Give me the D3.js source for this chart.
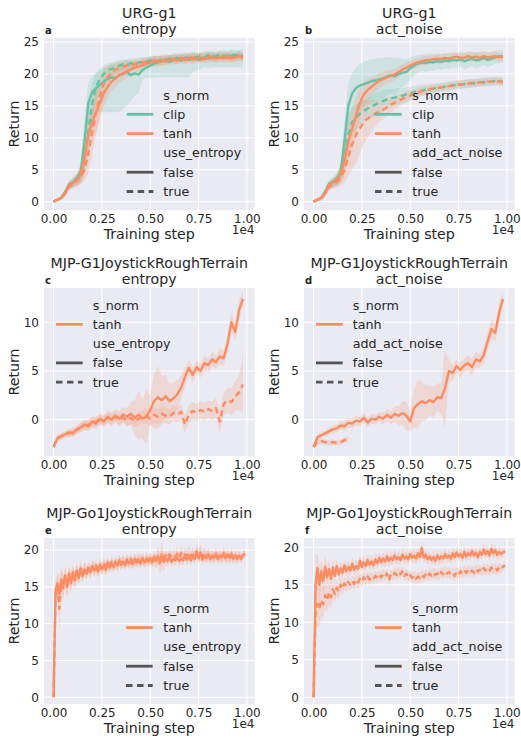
<!doctype html>
<html lang="en">
<head>
<meta charset="utf-8">
<script src="https://d3js.org/d3.v7.min.js"></script>
<style>
  body { margin: 0; background: #fff; }
  svg text { font-family: "DejaVu Sans", sans-serif; fill: #262626; }
</style>
</head>
<body>
<svg id="chart" width="521" height="738"></svg>
<script>
// ---- data ----
var xTicks = [0, 2500, 5000, 7500, 10000];
var xTickLabels = ["0.00", "0.25", "0.50", "0.75", "1.00"];
var steps200 = d3.range(0, 9801, 200);
var steps100 = d3.range(0, 9901, 100);
var shortSteps = d3.range(0, 1801, 200);

// URG-g1 entropy
var aClipFalse = [0,0.3,0.6,1.5,2.7,3.0,3.6,4.6,9.5,15.5,17.2,17.8,18.3,18.8,19.2,19.5,19.3,19.8,20.0,20.3,19.8,20.1,19.9,20.6,21.0,21.3,21.6,21.8,22.0,22.1,21.9,22.2,22.3,22.1,22.4,22.2,22.5,22.3,22.2,22.6,22.4,22.7,22.5,22.6,22.8,22.6,22.9,22.7,22.8,22.9];
var aClipFalseW = [0.1,0.2,0.3,0.5,0.6,0.7,0.8,1.5,3.5,3,2.5,2.3,2.2,2.1,2,2,2.1,2,2,1.9,2.2,2,2,1.6,1.4,1.2,1.1,1,1,1,1.1,1,1,1.1,1,1.1,1,1,1.1,1,1.1,1,1,1.1,1,1,0.9,1,1,1];
var aClipFalseWLo = [0.1,0.2,0.3,0.5,0.6,0.7,0.8,1.5,4.5,6.5,5.2,3.8,4.3,4.8,5.2,5.5,5.3,5.8,5.5,5.3,4,3.5,3,1.5,1.5,2,2.2,2.3,2.5,2.6,2.4,2.7,2.8,2.6,2.9,2.7,2.2,1.8,1.5,1.6,1.5,1.7,1.5,1.6,1.8,1.6,1.9,1.7,1.8,1.9];
var aClipTrue = [0,0.3,0.6,1.5,2.5,3.0,3.4,4.2,6.5,11,15.5,18,19.2,20,20.6,20.8,21.0,21.3,21.5,21.4,21.7,21.5,21.8,21.9,22.0,22.1,22.2,22.0,22.3,22.2,22.4,22.3,22.5,22.4,22.6,22.5,22.7,22.6,22.8,22.6,22.9,22.7,22.8,23.0,22.8,22.9,23.1,22.9,23.0,22.8];
var aClipTrueW = [0.1,0.2,0.3,0.5,0.6,0.7,0.9,1.3,2.5,3.5,3,2.2,1.6,1.3,1.1,1,1,0.9,0.9,0.8,0.8,0.8,0.8,0.7,0.7,0.7,0.7,0.7,0.6,0.6,0.6,0.6,0.6,0.6,0.6,0.6,0.6,0.6,0.6,0.6,0.6,0.6,0.6,0.6,0.6,0.6,0.6,0.6,0.6,0.6];
var aTanhFalse = [0,0.3,0.6,1.4,2.6,2.9,3.4,4.2,7,10.5,12.5,14,15.5,17,18,18.8,19.3,19.8,20.1,20.4,20.7,21,21.2,21.4,21.6,21.8,22.0,21.9,22.1,22.0,22.2,22.3,22.1,22.4,22.2,22.5,22.3,22.4,22.6,22.3,22.5,22.7,22.4,22.6,22.5,22.7,22.4,22.6,22.8,22.6];
var aTanhFalseW = [0.1,0.2,0.3,0.5,0.6,0.7,0.9,1.3,2.5,3,3.2,3,2.6,2.2,1.8,1.5,1.3,1.2,1.1,1,1,0.9,0.9,0.9,0.8,0.8,0.8,0.8,0.7,0.7,0.7,0.7,0.7,0.7,0.7,0.7,0.7,0.7,0.7,0.7,0.7,0.7,0.7,0.7,0.7,0.7,0.7,0.7,0.7,0.7];
var aTanhTrue = [0,0.3,0.6,1.3,2.4,2.8,3.2,3.9,5,7.5,11,14,16.5,18.5,19.5,20.2,20.7,20.9,21.1,21.4,21.3,21.6,21.5,21.8,21.9,22.0,22.1,22.2,22.0,22.3,22.2,22.4,22.3,22.5,22.4,22.6,22.5,22.7,22.4,22.6,22.8,22.5,22.7,22.6,22.8,22.5,22.7,22.6,22.8,22.7];
var aTanhTrueW = [0.1,0.2,0.3,0.5,0.6,0.7,0.9,1.2,1.8,3,3.5,3.5,3,2.5,1.8,1.4,1.2,1,0.9,0.9,0.8,0.8,0.8,0.8,0.7,0.7,0.7,0.7,0.7,0.7,0.7,0.7,0.7,0.7,0.7,0.7,0.7,0.7,0.7,0.7,0.7,0.7,0.7,0.7,0.7,0.7,0.7,0.7,0.7,0.7];

// URG-g1 act_noise
var bClipFalse = [0,0.3,0.6,1.6,2.8,3.1,3.6,4.6,9.5,15,17,17.8,18.2,18.4,18.6,18.9,19,19.2,19.3,19.6,19.8,19.6,20,20.2,20.3,20.9,21.3,21.6,21.8,21.7,21.9,21.8,22.0,21.9,22.1,22.0,22.2,22.1,22.3,22.0,22.2,22.4,22.1,22.3,22.5,22.2,22.4,22.6,22.8,22.7];
var bClipFalseW = [0.1,0.2,0.3,0.5,0.6,0.7,0.9,1.5,3.5,3.5,3.2,3.3,3.4,3.5,3.5,3.4,3.4,3.3,3.2,3,2.8,2.9,2.5,2.2,2,1.7,1.5,1.4,1.3,1.4,1.3,1.3,1.2,1.3,1.2,1.3,1.2,1.2,1.1,1.3,1.2,1.1,1.3,1.2,1.1,1.2,1.1,1,1,1];
var bClipTrue = [0,0.3,0.5,1.4,2.5,2.9,3.4,4.2,7,10.5,12.5,13.2,13.8,14.2,14.6,14.9,15.2,15.5,15.8,16,16.2,16.3,16.5,16.6,16.8,17,17.1,17.3,17.4,17.5,17.6,17.7,17.8,17.9,18,18.1,18.2,18.3,18.3,18.4,18.5,18.5,18.6,18.7,18.7,18.8,18.8,18.9,18.9,18.8];
var bClipTrueW = [0.1,0.2,0.3,0.5,0.6,0.7,0.9,1.4,2.5,3,2.5,2,1.8,1.6,1.6,1.7,1.8,1.8,1.7,1.6,1.5,1.4,1.3,1.2,1.1,1,1,0.9,0.9,0.8,0.8,0.8,0.8,0.7,0.7,0.7,0.7,0.7,0.7,0.7,0.7,0.7,0.7,0.7,0.7,0.7,0.7,0.7,0.7,0.7];
var bTanhFalse = [0,0.3,0.6,1.4,2.6,3,3.4,4.3,6.5,9.5,11.5,13.5,15.5,16.8,17.5,18,18.5,18.9,19.2,19.5,19.7,19.9,20.3,20.7,21,21.3,21.6,21.8,22,22.1,22.2,22.3,22.4,22.3,22.5,22.4,22.6,22.7,22.5,22.6,22.8,22.6,22.7,22.5,22.8,22.6,22.7,22.8,22.6,22.7];
var bTanhFalseW = [0.1,0.2,0.3,0.5,0.6,0.7,0.9,1.3,2.5,3,3.2,2.8,2.4,2,1.7,1.5,1.3,1.2,1.1,1,1,0.9,0.9,0.8,0.8,0.8,0.8,0.7,0.7,0.7,0.7,0.7,0.7,0.7,0.7,0.7,0.7,0.7,0.7,0.7,0.7,0.7,0.7,0.7,0.7,0.7,0.7,0.7,0.7,0.7];
var bTanhTrue = [0,0.3,0.5,1.3,2.3,2.7,3.1,3.8,5,7,9,10.5,11.5,12.5,13,13.4,13.8,14.1,14.4,14.8,15.2,15.5,15.8,16.1,16.4,16.6,16.9,17.1,17.3,17.4,17.6,17.7,17.8,17.9,18,18.1,18.2,18.3,18.4,18.4,18.5,18.6,18.6,18.7,18.7,18.8,18.8,18.9,18.8,18.7];
var bTanhTrueW = [0.1,0.2,0.3,0.5,0.6,0.7,0.9,1.3,2,3,4,4.5,4,3.5,3,2.5,2,1.7,1.5,1.3,1.2,1.1,1,0.9,0.9,0.8,0.8,0.7,0.7,0.7,0.6,0.6,0.6,0.6,0.6,0.6,0.6,0.6,0.6,0.6,0.6,0.6,0.6,0.6,0.6,0.6,0.6,0.6,0.6,0.6];

// MJP-G1JoystickRoughTerrain entropy
var cTanhFalse = [-2.8,-1.9,-1.7,-1.5,-1.3,-1.4,-1.0,-0.8,-0.5,-0.7,-0.2,-0.4,0.1,-0.2,0.3,0,0.4,0.1,0.5,0.3,0.6,0.2,0.5,0.1,0.3,1.0,1.9,2.3,2.0,2.4,1.9,2.2,2.6,3.3,4.4,5.3,4.6,5.4,5.0,5.8,5.6,6.2,5.9,6.5,6.3,7.8,10,9.0,11.3,12.4];
var cTanhFalseW = [0.2,0.3,0.3,0.3,0.4,0.4,0.4,0.5,0.5,0.5,0.6,0.6,0.6,0.6,0.7,0.7,0.7,0.8,0.8,0.9,1.2,1.8,2.5,2,2.8,1.5,2.8,3.2,2.5,2.2,1.8,1.6,1.5,1.2,1,0.8,0.8,0.7,0.7,0.8,0.7,0.8,0.7,0.8,0.8,0.9,1,0.9,1,0.8];
var cTanhTrue = [-2.8,-1.9,-1.7,-1.5,-1.4,-1.3,-1.1,-0.8,-0.6,-0.5,-0.3,-0.2,0,-0.1,0.2,0.1,0.3,0,0.2,-0.1,0.2,-0.2,0.1,0.3,0.4,0.1,0.5,0.3,0.6,0.4,0.3,0.7,0.5,0.8,-0.5,0.6,0.9,0.7,1.0,0.8,1.1,0.9,1.2,-0.2,1.6,2.0,1.8,2.4,2.8,3.6];
var cTanhTrueW = [0.2,0.3,0.3,0.3,0.4,0.4,0.4,0.5,0.5,0.5,0.5,0.5,0.5,0.5,0.5,0.5,0.5,0.5,0.5,0.6,0.6,0.6,0.6,0.7,0.8,0.8,0.8,0.8,0.8,0.8,0.8,0.8,0.8,0.8,0.9,0.9,0.9,0.9,0.9,0.9,0.9,1,1,1.2,1.2,1.3,1.4,1.5,1.8,3];

// MJP-G1JoystickRoughTerrain act_noise
var dTanhFalse = [-2.8,-1.8,-1.6,-1.4,-1.2,-1.0,-0.9,-0.6,-0.7,-0.3,-0.4,-0.1,-0.2,0.2,-0.3,0.1,0,0.3,0.1,0.5,0.2,0.6,0.4,0.7,0.4,-0.2,1.2,1.6,1.9,1.7,2.0,1.8,2.3,2.2,3.2,5.0,4.8,5.5,5.1,5.6,5.8,5.4,6.2,6.0,6.6,8.0,9.3,8.9,11.0,12.4];
var dTanhFalseW = [0.2,0.3,0.3,0.3,0.4,0.4,0.4,0.4,0.5,0.5,0.5,0.5,0.5,0.5,0.5,0.5,0.5,0.5,0.6,0.6,0.7,0.8,1,1.2,1.5,1,2,2.5,2,1.8,1.5,1.6,1.4,1.6,4,1.2,0.8,0.7,0.8,0.7,0.8,0.9,0.8,0.7,0.8,0.9,1,0.9,1,0.8];
var dTanhTrue = [-2.8,-2.3,-2.2,-2.3,-2.4,-2.3,-2.4,-2.3,-2.1,-2.0];
var dTanhTrueW = [0.2,0.3,0.3,0.3,0.3,0.3,0.3,0.3,0.3,0.3];

// MJP-Go1JoystickRoughTerrain entropy
var eTanhFalse = [0,14.5,15.5,14,16,15.2,16.5,15,16.8,15.5,17,16,17.2,16.2,17.5,16.5,17.3,16.8,17.6,17,17.8,17.2,17.6,17.1,18,17.4,17.9,17.3,18.3,17.6,18.1,17.7,18.4,17.9,18.6,18,18.4,18,18.7,18.2,18.5,18.1,18.8,18.3,18.6,18.2,18.9,18.3,18.7,18.4,18.9,18.3,18.8,18.5,19.2,18.2,19.4,18.4,18.9,18.5,19,18.4,18.8,18.6,19.1,18.5,18.9,18.6,19.2,18.7,19.1,18.6,19.3,18.8,19.5,18.9,19.6,18.7,19.3,18.9,19.4,18.8,19.2,18.9,19.5,18.8,19.3,19,19.6,18.9,19.4,19,19.5,18.8,19.3,18.9,19.2,18.8,19.3,19.4];
var eTanhFalseW = [0.2,1.5,1.5,2.5,1.5,1.5,1.2,1.5,1.2,1.3,1.1,1.2,1,1.1,0.9,1,0.9,0.9,0.8,0.9,0.8,0.9,0.8,0.8,0.9,0.8,0.8,0.9,0.8,0.7,0.8,0.7,0.8,0.8,0.7,0.8,0.7,0.8,0.7,0.8,0.8,0.7,0.8,0.7,0.8,0.7,0.8,0.7,0.8,0.7,0.8,0.9,0.8,1,1.2,1.5,1.8,1.2,0.9,0.8,0.8,0.7,0.8,0.7,0.8,0.7,0.8,0.7,0.8,0.7,0.8,0.7,0.8,0.7,0.9,0.8,1,0.8,0.9,0.8,0.8,0.7,0.8,0.7,0.8,0.7,0.8,0.7,0.8,0.7,0.8,0.7,0.8,0.7,0.8,0.7,0.7,0.6,0.6,0.5];
var eTanhTrue = [0,13.5,15,12,15.5,14.8,16,15.2,16.4,15.8,16.6,15.9,17,16.4,17.2,16.6,17.5,16.9,17.4,17.1,17.7,17.3,17.9,17.2,17.8,17.5,18.2,17.6,18,17.8,18.4,17.9,18.2,18,18.5,18.1,18.7,18.2,18.5,18.3,18.8,18.2,18.6,18.4,18.9,18.5,18.7,18.4,19,18.6,18.8,18.5,19.1,18.6,18.9,18.7,19.2,18.8,19.3,18.9,19.4,19,19.3,19.1,19.5,19,19.6,19.1,19.4,19.2,19.7,19.1,19.5,19.2,19.8,19.3,19.6,19.2,19.5,19.1,19.4,19,19.3,18.9,19.4,19,19.2,18.8,19.3,19,19.1,18.8,19.2,18.9,19.1,18.8,19.2,18.9,19.3,19.5];
var eTanhTrueW = [0.2,1.8,1.5,2.8,1.6,1.5,1.3,1.4,1.2,1.2,1.1,1.1,1,1,0.9,1,0.9,0.9,0.8,0.8,0.8,0.9,0.8,0.8,0.8,0.8,0.8,0.8,0.8,0.7,0.8,0.7,0.8,0.7,0.8,0.7,0.8,0.7,0.8,0.7,0.8,0.7,0.8,0.7,0.8,0.7,0.8,0.7,0.8,0.7,0.8,0.7,0.8,0.7,0.8,0.7,0.8,0.7,0.8,0.7,0.9,0.8,0.9,0.8,0.9,0.8,1,0.8,0.9,0.8,1,0.8,0.9,0.8,1,0.9,1,0.8,0.9,0.8,0.9,0.8,0.8,0.7,0.8,0.7,0.8,0.7,0.8,0.7,0.8,0.7,0.8,0.7,0.7,0.7,0.7,0.6,0.6,0.5];

// MJP-Go1JoystickRoughTerrain act_noise
var fTanhFalse = [0,15,17.2,15,16.8,15.5,17.4,16,17.1,15.8,17.3,16.2,17.5,16.4,17.2,16.6,17.6,16.8,17.4,16.9,17.8,17,17.5,17.1,18.2,17.4,18,17.5,18.3,17.7,18.1,17.6,18.4,17.9,18.6,18,18.5,18.1,18.8,18.2,18.6,18.3,18.9,18.4,18.7,18.3,19,18.5,18.8,18.4,19.1,18.6,18.9,18.5,19.2,18.7,19.9,18.6,19,18.4,18.8,18.3,18.7,18.2,18.9,18.4,18.8,18.5,19.1,18.6,18.9,18.5,19.2,18.7,19.3,18.8,19.1,18.6,19.4,18.8,19.2,18.9,19.5,18.9,19.3,18.7,19.4,19,19.7,19.1,19.5,18.9,19.8,19.2,19.6,19,19.4,19.1,19.3,19.5];
var fTanhFalseW = [0.2,4,2,2.5,1.5,1.8,1.5,1.4,1.3,1.2,1.2,1.1,1,1,1,0.9,0.9,0.9,0.9,0.8,0.9,0.8,0.9,0.8,0.9,0.8,0.9,0.8,0.9,0.8,0.8,0.8,0.8,0.8,0.8,0.8,0.8,0.8,0.8,0.8,0.8,0.8,0.8,0.8,0.8,0.8,0.8,0.8,0.8,0.8,0.8,0.8,0.8,0.8,0.9,0.8,1,0.8,0.8,0.8,0.8,0.7,0.8,0.7,0.8,0.7,0.8,0.7,0.8,0.7,0.8,0.7,0.8,0.7,0.8,0.7,0.8,0.7,0.8,0.7,0.8,0.7,0.8,0.7,0.8,0.7,0.8,0.7,0.8,0.7,0.8,0.7,0.8,0.7,0.8,0.7,0.7,0.6,0.6,0.5];
var fTanhTrue = [0,11,12.5,11.8,13,12.4,13.6,12.9,14,13.3,14.4,13.8,14.6,14.1,15,14.5,15.2,14.8,15.4,15,15.5,15.1,15.7,15.3,15.8,15.5,16,15.6,16.1,15.7,16,15.8,16.2,15.9,16.3,16,16.4,16.1,16.5,15.6,16.4,16.2,16.6,16.3,16.7,16.4,16.8,16.2,16.5,16,16.3,15.9,16.2,15.8,16.1,15.9,16.3,16,16.4,16.1,16.5,16.2,16.6,16.3,16.5,16.2,16.7,16.4,16.8,16.5,16.7,16.4,16.6,16.2,16.7,16.4,16.8,16.5,16.9,16.6,17,16.7,16.9,16.6,17.1,16.8,17,16.7,17.2,16.9,17.1,16.8,17.3,17,17.2,16.9,17.3,17.1,17.4,17.6];
var fTanhTrueW = [0.2,3.5,3,2.5,2,2,1.8,1.6,1.5,1.4,1.3,1.2,1.1,1,1,1,0.9,0.9,0.9,0.8,0.8,0.8,0.8,0.8,0.8,0.8,0.8,0.8,0.8,0.8,0.7,0.7,0.7,0.7,0.7,0.7,0.7,0.7,0.7,0.7,0.7,0.7,0.7,0.7,0.7,0.7,0.7,0.7,0.7,0.7,0.7,0.7,0.7,0.7,0.7,0.7,0.7,0.7,0.7,0.7,0.7,0.7,0.7,0.7,0.7,0.7,0.7,0.7,0.7,0.7,0.7,0.7,0.7,0.7,0.7,0.7,0.7,0.7,0.7,0.7,0.7,0.7,0.7,0.7,0.7,0.7,0.7,0.7,0.7,0.7,0.7,0.7,0.7,0.7,0.7,0.7,0.6,0.6,0.5,0.5];

var hueColor = { clip: "#66c2a5", tanh: "#fc8d62" };

var panels = [
  { t1: "URG-g1", t2: "entropy", tag: "a", col: 0, row: 0, yDom: [-1.3, 25.63], yTicks: [0,5,10,15,20,25],
    hues: ["clip","tanh"], group: "use_entropy", leg: [82.7, 119.3, 57],
    series: [
      { hue: "clip", dash: false, x: steps200, y: aClipFalse, w: aClipFalseW, wLo: aClipFalseWLo },
      { hue: "clip", dash: true,  x: steps200, y: aClipTrue,  w: aClipTrueW },
      { hue: "tanh", dash: false, x: steps200, y: aTanhFalse, w: aTanhFalseW },
      { hue: "tanh", dash: true,  x: steps200, y: aTanhTrue,  w: aTanhTrueW } ] },
  { t1: "URG-g1", t2: "act_noise", tag: "b", col: 1, row: 0, yDom: [-1.3, 25.63], yTicks: [0,5,10,15,20,25],
    hues: ["clip","tanh"], group: "add_act_noise", leg: [71, 108.3, 57],
    series: [
      { hue: "clip", dash: false, x: steps200, y: bClipFalse, w: bClipFalseW },
      { hue: "clip", dash: true,  x: steps200, y: bClipTrue,  w: bClipTrueW },
      { hue: "tanh", dash: false, x: steps200, y: bTanhFalse, w: bTanhFalseW },
      { hue: "tanh", dash: true,  x: steps200, y: bTanhTrue,  w: bTanhTrueW } ] },
  { t1: "MJP-G1JoystickRoughTerrain", t2: "entropy", tag: "c", col: 0, row: 1, yDom: [-3.73, 13.52], yTicks: [0,5,10],
    hues: ["tanh"], group: "use_entropy", leg: [12, 48.7, 17],
    series: [
      { hue: "tanh", dash: false, x: steps200, y: cTanhFalse, w: cTanhFalseW },
      { hue: "tanh", dash: true,  x: steps200, y: cTanhTrue,  w: cTanhTrueW } ] },
  { t1: "MJP-G1JoystickRoughTerrain", t2: "act_noise", tag: "d", col: 1, row: 1, yDom: [-3.73, 13.52], yTicks: [0,5,10],
    hues: ["tanh"], group: "add_act_noise", leg: [12, 48.7, 17],
    series: [
      { hue: "tanh", dash: false, x: steps200, y: dTanhFalse, w: dTanhFalseW },
      { hue: "tanh", dash: true,  x: shortSteps, y: dTanhTrue, w: dTanhTrueW } ] },
  { t1: "MJP-Go1JoystickRoughTerrain", t2: "entropy", tag: "e", col: 0, row: 2, yDom: [-0.91, 21.63], yTicks: [0,5,10,15,20],
    hues: ["tanh"], group: "use_entropy", leg: [82, 119.3, 70.3],
    series: [
      { hue: "tanh", dash: false, x: steps100, y: eTanhFalse, w: eTanhFalseW },
      { hue: "tanh", dash: true,  x: steps100, y: eTanhTrue,  w: eTanhTrueW } ] },
  { t1: "MJP-Go1JoystickRoughTerrain", t2: "act_noise", tag: "f", col: 1, row: 2, yDom: [-0.89, 21.24], yTicks: [0,5,10,15,20],
    hues: ["tanh"], group: "add_act_noise", leg: [71, 108.3, 70.3],
    series: [
      { hue: "tanh", dash: false, x: steps100, y: fTanhFalse, w: fTanhFalseW },
      { hue: "tanh", dash: true,  x: steps100, y: fTanhTrue,  w: fTanhTrueW } ] }
];

// ---- layout ----
var colLeft = [44, 304];
var rowTop = [38, 288, 538];
var rowH = [172, 168, 166];
var axW = 210.5;

var svg = d3.select("#chart");

panels.forEach(function(p) {
  var left = colLeft[p.col], top = rowTop[p.row], h = rowH[p.row];
  var g = svg.append("g").attr("transform", "translate(" + left + "," + top + ")");
  var x = d3.scaleLinear().domain([-495, 10395]).range([0, axW]);
  var y = d3.scaleLinear().domain(p.yDom).range([h, 0]);

  g.append("rect").attr("width", axW).attr("height", h).attr("fill", "#eaeaf2");

  // grid
  g.selectAll(".gx").data(xTicks).enter().append("line")
    .attr("x1", function(d) { return x(d); }).attr("x2", function(d) { return x(d); })
    .attr("y1", 0).attr("y2", h).attr("stroke", "#fff").attr("stroke-width", 1);
  g.selectAll(".gy").data(p.yTicks).enter().append("line")
    .attr("y1", function(d) { return y(d); }).attr("y2", function(d) { return y(d); })
    .attr("x1", 0).attr("x2", axW).attr("stroke", "#fff").attr("stroke-width", 1);

  // axes (no domain, no ticks - seaborn darkgrid)
  var xa = g.append("g").attr("transform", "translate(0," + h + ")")
    .call(d3.axisBottom(x).tickValues(xTicks).tickFormat(function(d, i) { return xTickLabels[i]; }).tickSize(0).tickPadding(13));
  var ya = g.append("g")
    .call(d3.axisLeft(y).tickValues(p.yTicks).tickSize(0).tickPadding(5));
  [xa, ya].forEach(function(a) {
    a.select(".domain").remove();
    a.selectAll("text").attr("font-size", 12).attr("font-family", "DejaVu Sans").attr("fill", "#262626");
  });
  xa.selectAll("text").attr("dy", 0);

  // bands then lines
  var clipId = "clip" + p.tag;
  g.append("clipPath").attr("id", clipId).append("rect").attr("width", axW).attr("height", h);
  var plot = g.append("g").attr("clip-path", "url(#" + clipId + ")");
  p.series.forEach(function(s) {
    var lo = s.wLo || s.w;
    var area = d3.area()
      .x(function(d, i) { return x(s.x[i]); })
      .y0(function(d, i) { return y(d - lo[i]); })
      .y1(function(d, i) { return y(d + s.w[i]); });
    plot.append("path").datum(s.y).attr("d", area)
      .attr("fill", hueColor[s.hue]).attr("fill-opacity", 0.2);
  });
  p.series.forEach(function(s) {
    var line = d3.line().x(function(d, i) { return x(s.x[i]); }).y(function(d) { return y(d); });
    plot.append("path").datum(s.y).attr("d", line)
      .attr("fill", "none").attr("stroke", hueColor[s.hue]).attr("stroke-width", 2.4)
      .attr("stroke-linejoin", "round")
      .attr("stroke-dasharray", s.dash ? "6,4" : null);
  });

  // titles
  g.append("text").attr("x", axW / 2).attr("y", -20.5).attr("text-anchor", "middle").attr("font-size", 14.2).text(p.t1);
  g.append("text").attr("x", axW / 2).attr("y", -4.5).attr("text-anchor", "middle").attr("font-size", 14.2).text(p.t2);
  g.append("text").attr("x", 1).attr("y", -4).attr("font-size", 10).attr("font-weight", "bold").text(p.tag);

  // axis labels
  g.append("text").attr("x", axW / 2).attr("y", h + 28.5).attr("text-anchor", "middle").attr("font-size", 14.2).text("Training step");
  g.append("text").attr("x", axW).attr("y", h + 23.5).attr("text-anchor", "end").attr("font-size", 12).text("1e4");
  g.append("text").attr("transform", "translate(" + (18.5 - 44) + "," + (h / 2) + ") rotate(-90)")
    .attr("text-anchor", "middle").attr("font-size", 14.2).text("Return");

  // legend
  var rows = [{ label: "s_norm" }];
  p.hues.forEach(function(hh) { rows.push({ label: hh, color: hueColor[hh] }); });
  rows.push({ label: p.group });
  rows.push({ label: "false", color: "#555555" });
  rows.push({ label: "true", color: "#555555", dash: true });
  var lg = g.append("g");
  rows.forEach(function(r, i) {
    var cy = p.leg[2] + i * 19.3;
    if (r.color) {
      lg.append("line").attr("x1", p.leg[0]).attr("x2", p.leg[0] + 26.7).attr("y1", cy).attr("y2", cy)
        .attr("stroke", r.color).attr("stroke-width", 2.8)
        .attr("stroke-dasharray", r.dash ? "6.5,4.5" : null);
    }
    lg.append("text").attr("x", p.leg[1]).attr("y", cy + 4.5).attr("font-size", 12.7).text(r.label);
  });
});
</script>
</body>
</html>
